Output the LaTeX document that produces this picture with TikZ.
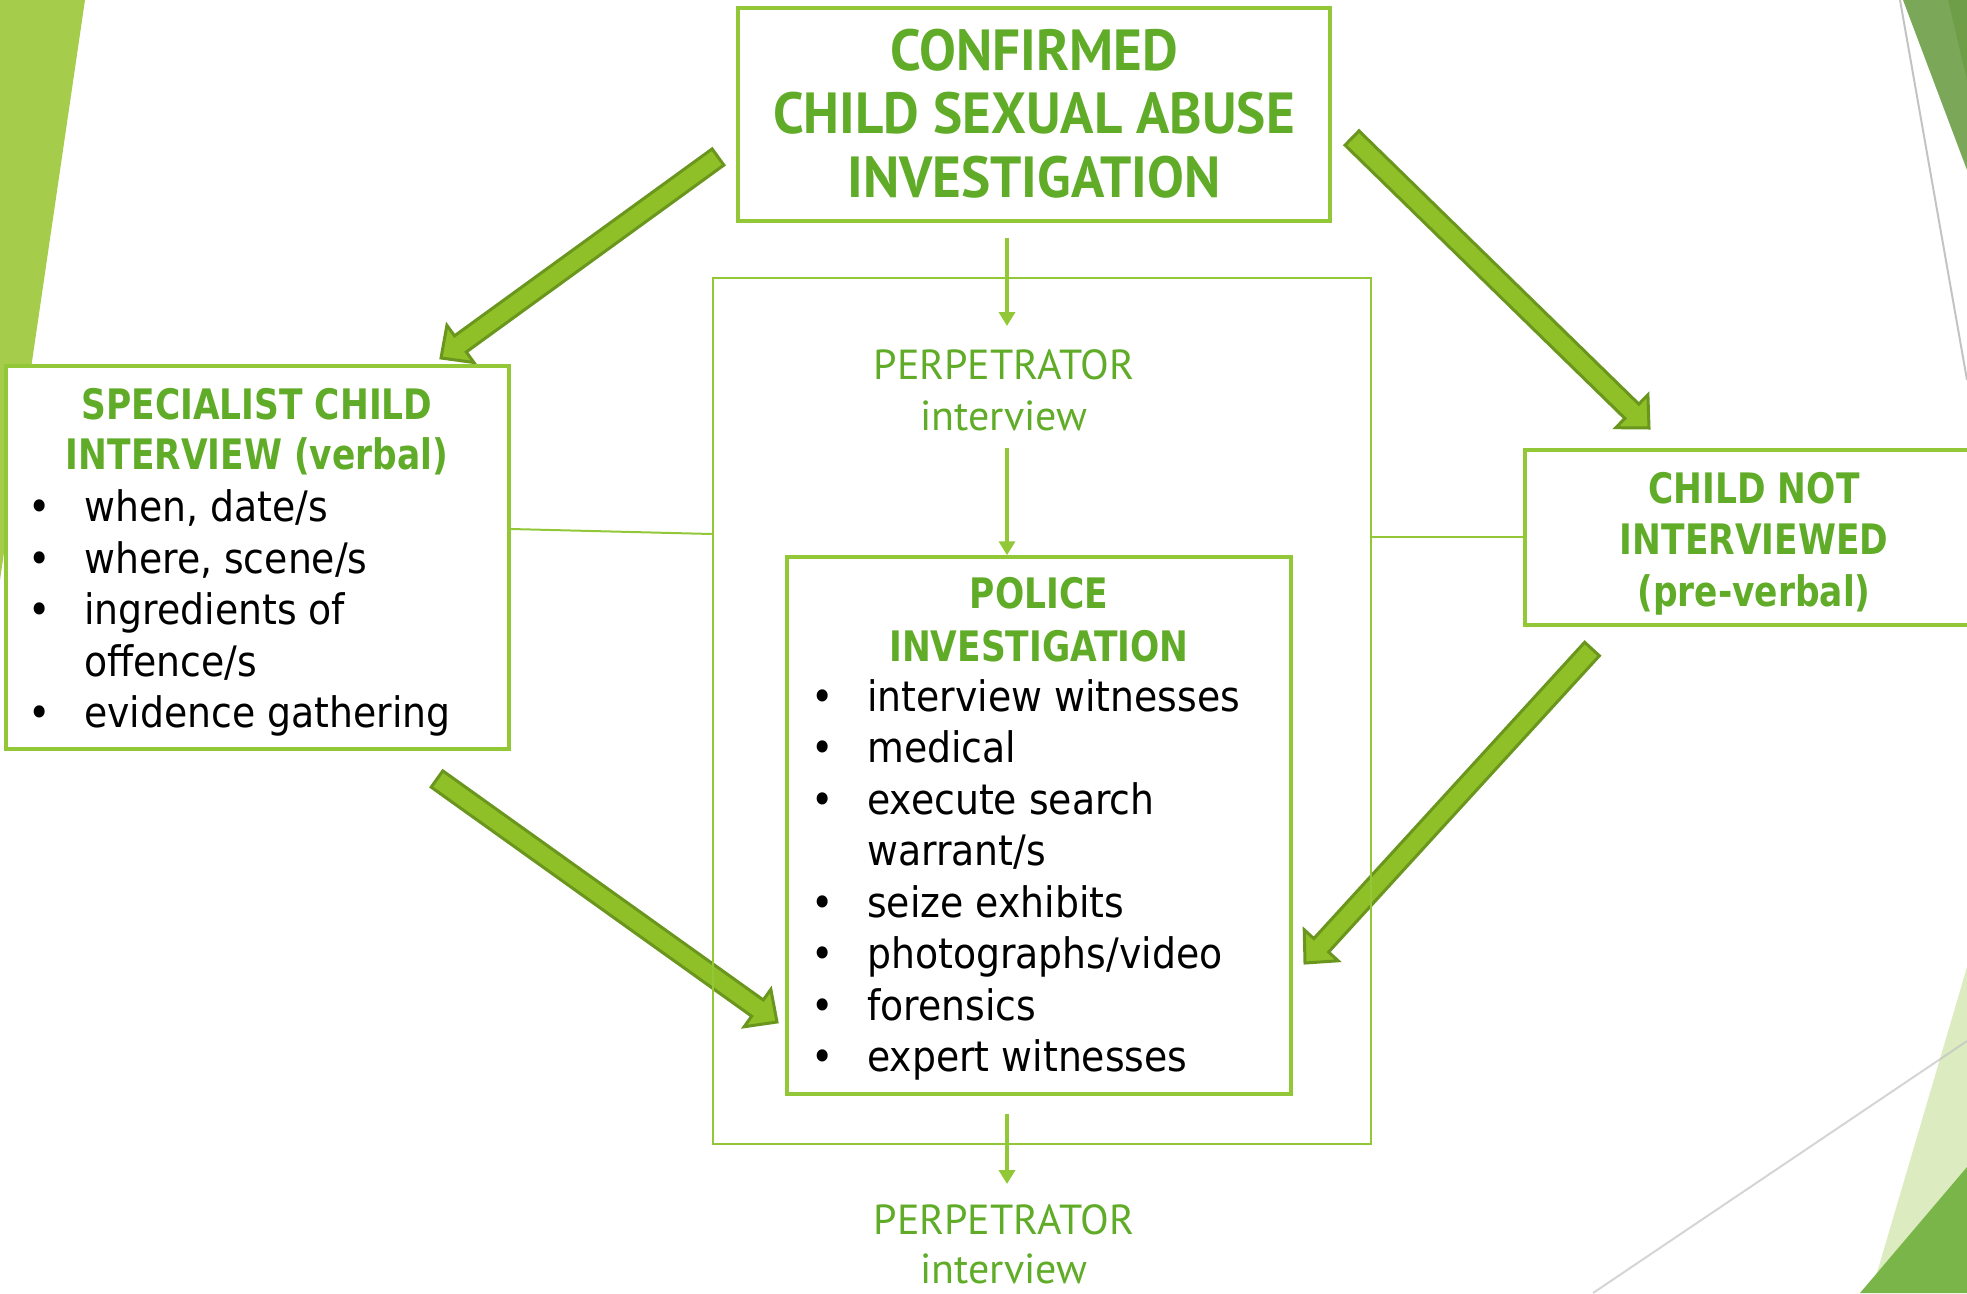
\documentclass[tikz,border=0pt]{standalone}
\usepackage{fontspec}
\setmainfont{DejaVu Sans}[FakeStretch=0.9]
\newfontfamily\headfont{DejaVu Sans}[FakeStretch=0.82]
\newfontfamily\topfont{PT Sans}[FakeStretch=0.95]
\newfontfamily\perpfont{PT Sans}
\usetikzlibrary{calc,arrows.meta}
\definecolor{boxgreen}{RGB}{146,200,56}
\definecolor{headgreen}{RGB}{96,172,40}
\definecolor{arrowfill}{RGB}{143,192,40}
\definecolor{arrowline}{RGB}{106,150,30}
\definecolor{decolight}{RGB}{165,204,74}
\definecolor{decodark}{RGB}{122,168,88}
\definecolor{decodarker}{RGB}{110,158,72}
\definecolor{decopale}{RGB}{221,235,192}
\definecolor{decomid}{RGB}{122,181,74}
\definecolor{greyline}{RGB}{195,195,195}
\newcommand\lbul{\makebox[56pt][l]{\textbullet}}
\newcommand\lind{\hspace*{56pt}}
\newcommand\blockarr[2]{%
  \coordinate (ba-n) at ($(#2)!24pt!(#1)$);
  \filldraw[blockarrow]
    ($(#1)!10pt!90:(#2)$) --
    ($(ba-n)!10pt!-90:(#1)$) --
    ($(ba-n)!23pt!-90:(#1)$) --
    (#2) --
    ($(ba-n)!23pt!90:(#1)$) --
    ($(ba-n)!10pt!90:(#1)$) --
    ($(#1)!10pt!-90:(#2)$) -- cycle;
}
\begin{document}
\begin{tikzpicture}[x=1pt,y=-1pt,
  gbox/.style={draw=boxgreen, line width=3.5pt, fill=white, inner sep=0pt},
  obox/.style={draw=boxgreen, line width=2.5pt, inner sep=0pt},
  conn/.style={draw=boxgreen, line width=2pt},
  thinarr/.style={draw=boxgreen, line width=4pt, -{Triangle[width=16pt,length=14pt]}},
  blockarrow/.style={fill=arrowfill, draw=arrowline, line width=3pt, line join=miter},
  headtext/.style={text=headgreen, align=center, inner sep=0pt, font=\headfont\bfseries\fontsize{42}{#1}\selectfont},
  listtext/.style={text=black, align=left, inner sep=0pt, font=\fontsize{42}{51.5}\selectfont},
  toptext/.style={text=headgreen, align=center, inner sep=0pt, font=\topfont\bfseries\fontsize{58}{63.5}\selectfont},
  perptext/.style={text=headgreen, align=center, inner sep=0pt, font=\perpfont\fontsize{42}{#1}\selectfont}]
\useasboundingbox (0,0) rectangle (1967,1293);
\clip (0,0) rectangle (1967,1293);
% decorations
\fill[decolight] (0,0) -- (85,0) -- (0,580) -- cycle;
\fill[decodark] (1903,0) -- (1967,0) -- (1967,170) -- cycle;
\fill[decodarker] (1948,0) -- (1967,0) -- (1967,80) -- cycle;
\draw[greyline, line width=2pt] (1900,0) -- (1967,380);
\fill[decopale] (1967,967) -- (1967,1293) -- (1871,1293) -- cycle;
\fill[decomid] (1967,1167) -- (1967,1293) -- (1860,1293) -- cycle;
\draw[greyline, opacity=0.7, line width=2pt] (1593,1293) -- (1967,1041);
% block arrows
\coordinate (bA-t) at (718,157);  \coordinate (bA-h) at (441,358);
\coordinate (bB-t) at (1352,138); \coordinate (bB-h) at (1649,428);
\coordinate (bC-t) at (437,779);  \coordinate (bC-h) at (777,1022);
\coordinate (bD-t) at (1592,649); \coordinate (bD-h) at (1305,963);
\blockarr{bA-t}{bA-h}
\blockarr{bB-t}{bB-h}
\blockarr{bC-t}{bC-h}
\blockarr{bD-t}{bD-h}
% boxes
\node[obox, minimum width=658, minimum height=866] (outer) at (1042,711) {};
\node[gbox, minimum width=503, minimum height=383] (spec) at (257.5,557.5) {};
\node[gbox, minimum width=460, minimum height=175] (notint) at (1755,537.5) {};
\draw[conn] (spec.east |- 0,529) -- (outer.west |- 0,534);
\draw[conn] (outer.east |- 0,537) -- (notint.west |- 0,537);
\node[gbox, minimum width=592, minimum height=213] (top) at (1034,114.5) {};
\node[gbox, minimum width=504, minimum height=537] (police) at (1039,825.5) {};
% texts
\node[toptext] (toptxt) at (1034,113.5) {CONFIRMED\\CHILD SEXUAL ABUSE\\INVESTIGATION};
\node[headtext=50] (spechead) at (257,432) {SPECIALIST CHILD\\INTERVIEW (verbal)};
\node[listtext, anchor=west] (speclist) at (28,613) {\lbul when, date/s\\\lbul where, scene/s\\\lbul ingredients of\\\lind offence/s\\\lbul evidence gathering};
\node[headtext=53] (policehead) at (1039,619.5) {POLICE\\INVESTIGATION};
\node[listtext, anchor=west] (policelist) at (811,880) {\lbul interview witnesses\\\lbul medical\\\lbul execute search\\\lind warrant/s\\\lbul seize exhibits\\\lbul photographs/video\\\lbul forensics\\\lbul expert witnesses};
\node[headtext=51.5] (notinthead) at (1754,543.5) {CHILD NOT\\INTERVIEWED\\(pre-verbal)};
\node[perptext=51] (perp1) at (1004,390) {PERPETRATOR\\interview};
\node[perptext=49] (perp2) at (1004,1244) {PERPETRATOR\\interview};
% thin arrows
\coordinate (a1s) at (1007,238); \coordinate (a1e) at (1007,326);
\draw[thinarr] (a1s) -- (a1e);
\coordinate (a2s) at (1007,448);
\draw[thinarr] (a2s) -- (a2s |- police.north);
\coordinate (a3s) at (1007,1114); \coordinate (a3e) at (1007,1184);
\draw[thinarr] (a3s) -- (a3e);
\end{tikzpicture}
\end{document}
